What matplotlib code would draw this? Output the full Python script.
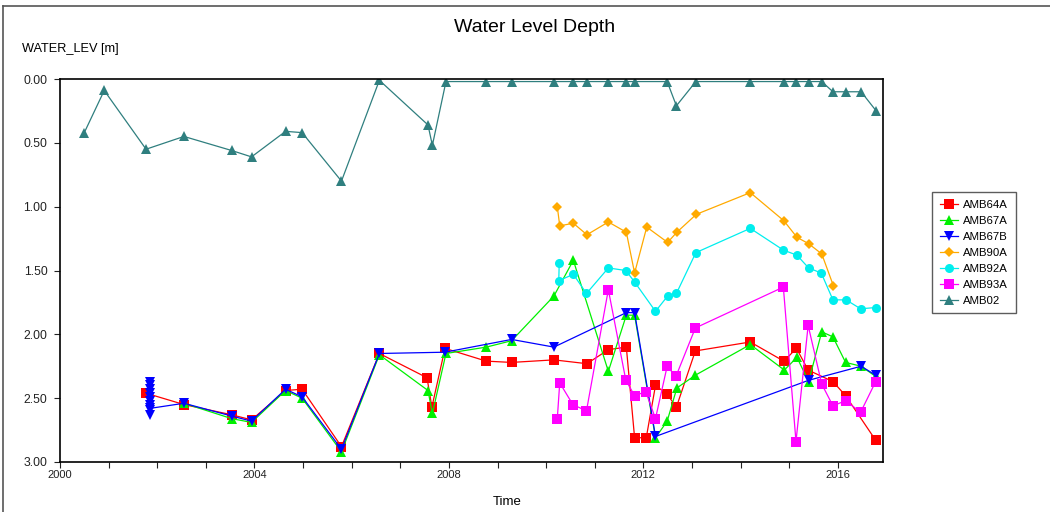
#!/usr/bin/env python3
"""Water Level Depth - profundidade do nivel de agua por poco (eixo y invertido)."""

import matplotlib
matplotlib.use('Agg')
import matplotlib.pyplot as plt
from matplotlib.lines import Line2D
from matplotlib.ticker import MultipleLocator, FormatStrFormatter

plt.rcParams['font.family'] = ['Liberation Sans', 'DejaVu Sans']

# datas em anos decimais, profundidade em m
AMB64A_T = [2001.76, 2002.55, 2003.53, 2003.94, 2004.64, 2004.98, 2005.79, 2006.57,
            2007.55, 2007.65, 2007.92, 2008.77, 2009.29, 2010.16, 2010.84, 2011.28,
            2011.65, 2011.82, 2012.06, 2012.25, 2012.49, 2012.68, 2013.07, 2014.20,
            2014.89, 2015.15, 2015.39, 2015.90, 2016.16, 2016.78]
AMB64A_V = [2.46, 2.55, 2.63, 2.67, 2.44, 2.43, 2.88, 2.15,
            2.34, 2.57, 2.11, 2.21, 2.22, 2.20, 2.23, 2.12,
            2.10, 2.81, 2.81, 2.40, 2.47, 2.57, 2.13, 2.06,
            2.21, 2.11, 2.28, 2.37, 2.48, 2.83]

AMB67A_T = [2002.55, 2003.53, 2003.94, 2004.64, 2004.98, 2005.79, 2006.57, 2007.57,
            2007.66, 2007.94, 2008.77, 2009.29, 2010.16, 2010.56, 2011.28, 2011.65,
            2011.82, 2012.25, 2012.49, 2012.69, 2013.07, 2014.20, 2014.90, 2015.16,
            2015.40, 2015.67, 2015.90, 2016.16, 2016.48, 2016.78]
AMB67A_V = [2.54, 2.66, 2.69, 2.44, 2.50, 2.92, 2.16, 2.44,
            2.62, 2.15, 2.10, 2.05, 1.70, 1.42, 2.29, 1.85,
            1.85, 2.81, 2.68, 2.42, 2.32, 2.08, 2.28, 2.18,
            2.37, 1.98, 2.02, 2.22, 2.25, 2.33]

AMB67B_T = [2001.85, 2001.85, 2001.85, 2001.85, 2001.85, 2001.85, 2001.85, 2001.85,
            2001.85, 2001.85, 2002.55, 2003.53, 2003.94, 2004.64, 2004.98, 2005.79,
            2006.57, 2007.92, 2009.29, 2010.16, 2011.65, 2011.82, 2012.25, 2015.40,
            2016.48, 2016.78]
AMB67B_V = [2.37, 2.40, 2.43, 2.46, 2.49, 2.52, 2.55, 2.59, 2.63, 2.58,
            2.54, 2.64, 2.68, 2.43, 2.49, 2.90,
            2.15, 2.14, 2.04, 2.10, 1.83, 1.83, 2.80, 2.36,
            2.25, 2.32]

AMB90A_T = [2010.23, 2010.28, 2010.56, 2010.84, 2011.28, 2011.65, 2011.82, 2012.07,
            2012.50, 2012.69, 2013.09, 2014.20, 2014.89, 2015.16, 2015.40, 2015.67,
            2015.91]
AMB90A_V = [1.00, 1.15, 1.13, 1.22, 1.12, 1.20, 1.52, 1.16,
            1.28, 1.20, 1.06, 0.89, 1.11, 1.24, 1.29, 1.37,
            1.62]

AMB92A_T = [2010.27, 2010.26, 2010.56, 2010.83, 2011.28, 2011.64, 2011.82, 2012.25,
            2012.50, 2012.68, 2013.08, 2014.20, 2014.88, 2015.16, 2015.40, 2015.66,
            2015.90, 2016.17, 2016.47, 2016.78]
AMB92A_V = [1.44, 1.58, 1.53, 1.68, 1.48, 1.50, 1.59, 1.82,
            1.70, 1.68, 1.36, 1.17, 1.34, 1.38, 1.48, 1.52,
            1.73, 1.73, 1.80, 1.79]

AMB93A_T = [2010.23, 2010.28, 2010.55, 2010.83, 2011.28, 2011.64, 2011.82, 2012.05,
            2012.25, 2012.49, 2012.67, 2013.07, 2014.88, 2015.14, 2015.39, 2015.67,
            2015.90, 2016.16, 2016.47, 2016.78]
AMB93A_V = [2.66, 2.38, 2.55, 2.60, 1.65, 2.36, 2.48, 2.45,
            2.66, 2.25, 2.33, 1.95, 1.63, 2.84, 1.93, 2.39,
            2.56, 2.52, 2.61, 2.37]

AMB02_T = [2000.50, 2000.91, 2001.77, 2002.55, 2003.53, 2003.94, 2004.64, 2004.98,
           2005.79, 2006.57, 2007.57, 2007.66, 2007.94, 2008.77, 2009.29, 2010.16,
           2010.55, 2010.84, 2011.27, 2011.65, 2011.82, 2012.49, 2012.68, 2013.08,
           2014.20, 2014.89, 2015.15, 2015.40, 2015.67, 2015.90, 2016.17, 2016.48,
           2016.79]
AMB02_V = [0.42, 0.09, 0.55, 0.45, 0.56, 0.61, 0.41, 0.42,
           0.80, 0.01, 0.36, 0.52, 0.02, 0.02, 0.02, 0.02,
           0.02, 0.02, 0.02, 0.02, 0.02, 0.02, 0.21, 0.02,
           0.02, 0.02, 0.02, 0.02, 0.02, 0.10, 0.10, 0.10,
           0.25]

# (nome, tempos, valores, cor, marcador, tamanho)
SERIES = [
    ('AMB64A', AMB64A_T, AMB64A_V, '#FF0000', 's', 6.5),
    ('AMB67A', AMB67A_T, AMB67A_V, '#00F000', '^', 7),
    ('AMB67B', AMB67B_T, AMB67B_V, '#0000FF', 'v', 7),
    ('AMB90A', AMB90A_T, AMB90A_V, '#FFAA00', 'D', 5.5),
    ('AMB92A', AMB92A_T, AMB92A_V, '#00EEEE', 'o', 6.5),
    ('AMB93A', AMB93A_T, AMB93A_V, '#FF00FF', 's', 6.5),
    ('AMB02', AMB02_T, AMB02_V, '#2F7F7F', '^', 7),
]


def main():
    fig = plt.figure(figsize=(10.5, 5.12), dpi=100)
    ax = fig.add_axes([60 / 1050, 1 - 462 / 512, 823 / 1050, 383 / 512])

    for nome, t, v, cor, mk, ms in SERIES:
        ax.plot(t, v, color=cor, marker=mk, markersize=ms, linewidth=0.9,
                markeredgewidth=0, label=nome)

    ax.set_xlim(2000, 2016.93)
    ax.set_ylim(3.0, 0.0)
    ax.xaxis.set_major_locator(MultipleLocator(4))
    ax.xaxis.set_minor_locator(MultipleLocator(1))
    ax.yaxis.set_major_locator(MultipleLocator(0.5))
    ax.yaxis.set_major_formatter(FormatStrFormatter('%.2f'))
    ax.tick_params(axis='both', which='both', direction='out', length=4,
                   width=0.8, colors='#222222')
    ax.tick_params(axis='x', labelsize=8, pad=2)
    ax.tick_params(axis='y', labelsize=8.8, pad=5)
    for s in ax.spines.values():
        s.set_linewidth(1.2)
        s.set_color('black')

    fig.text(535 / 1050, 1 - 28 / 512, 'Water Level Depth', ha='center',
             va='center', fontsize=14)
    fig.text(22 / 1050, 1 - 49 / 512, 'WATER_LEV [m]', ha='left', va='center',
             fontsize=9.2)
    fig.text(507 / 1050, 1 - 502 / 512, 'Time', ha='center', va='center',
             fontsize=9.5)

    leg = ax.legend(loc='upper left', bbox_to_anchor=(932 / 1050, 1 - 192 / 512),
                    bbox_transform=fig.transFigure, fontsize=8.2, frameon=True,
                    fancybox=False, shadow=False, borderpad=0.7,
                    labelspacing=0.52, handlelength=1.6, handletextpad=0.4,
                    borderaxespad=0)
    leg.get_frame().set_edgecolor('#333333')
    leg.get_frame().set_linewidth(1.0)

    # moldura da figura (so topo e esquerda aparecem)
    fig.add_artist(Line2D([3 / 1050, 3 / 1050], [0, 1 - 6 / 512],
                          transform=fig.transFigure, color='#555555', lw=1.2))
    fig.add_artist(Line2D([3 / 1050, 1], [1 - 6 / 512, 1 - 6 / 512],
                          transform=fig.transFigure, color='#555555', lw=1.2))

    fig.savefig('out.png', dpi=100)
    plt.close(fig)


if __name__ == '__main__':
    main()
